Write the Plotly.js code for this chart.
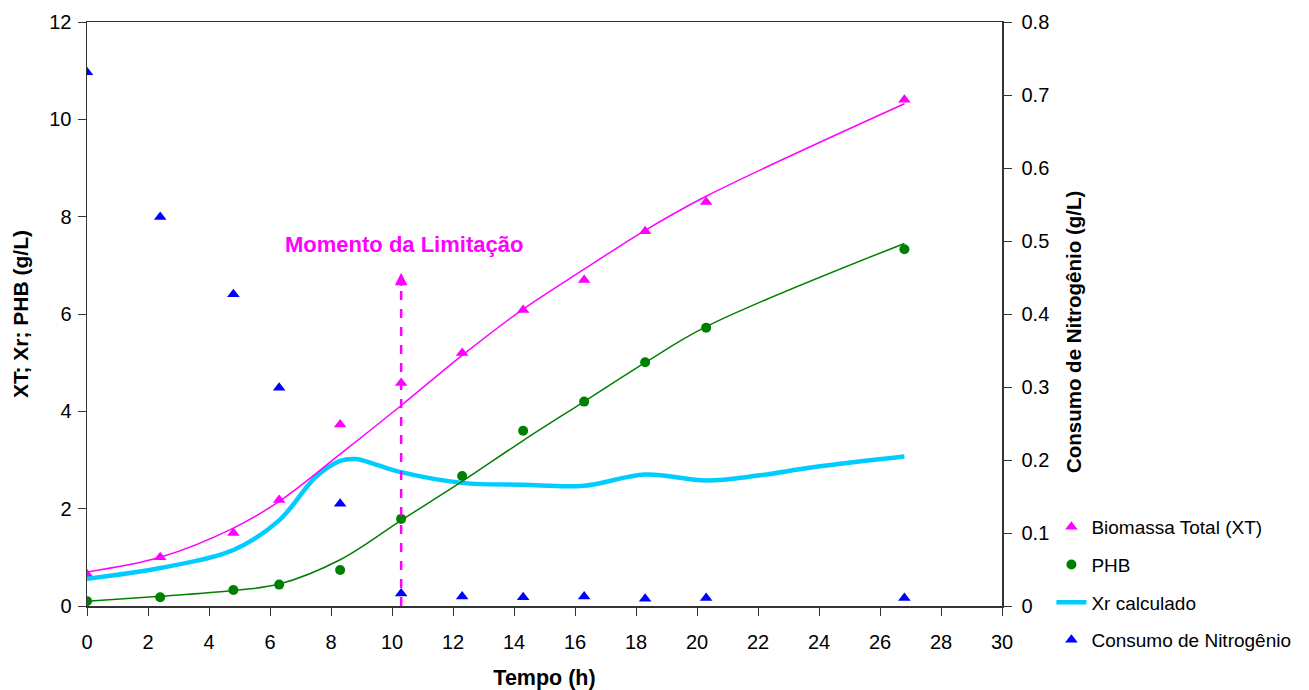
<!DOCTYPE html>
<html><head><meta charset="utf-8">
<script src="https://cdn.plot.ly/plotly-3.0.1.min.js"></script>
<style>body{margin:0;background:#fff}#chart{width:1309px;height:690px}</style>
</head><body><div id="chart"></div>
<script>
const tempo = [0, 2.4, 4.8, 6.3, 8.3, 10.3, 12.3, 14.3, 16.3, 18.3, 20.3, 26.8];
const biomassaTotal = [0.65, 1.0, 1.5, 2.18, 3.73, 4.58, 5.2, 6.08, 6.7, 7.7, 8.3, 10.4];
const phb = [0.1, 0.18, 0.33, 0.44, 0.74, 1.79, 2.67, 3.6, 4.2, 5.01, 5.72, 7.33];
const nitrogenio = [0.731, 0.533, 0.427, 0.299, 0.14, 0.017, 0.013, 0.012, 0.013, 0.01, 0.011, 0.011];
// fitted curves
const fitTempo = [0, 2.4, 4.8, 6.3, 8.3, 10.3, 12.3, 14.3, 16.3, 18.3, 20.3, 26.8];
const xtAjuste = [0.7, 1.0, 1.6, 2.15, 3.12, 4.12, 5.15, 6.1, 6.92, 7.72, 8.42, 10.32];
const phbAjuste = [0.1, 0.2, 0.32, 0.45, 0.95, 1.76, 2.56, 3.4, 4.2, 5.0, 5.74, 7.45];
const xrTempo = [0, 2.4, 4.8, 6.3, 7.5, 8.3, 8.8, 9.5, 10.3, 12.3, 14.3, 16.3, 18.3, 20.3, 22, 23.8, 26.8];
const xrCalculado = [0.56, 0.78, 1.15, 1.76, 2.65, 2.98, 3.02, 2.9, 2.75, 2.53, 2.49, 2.47, 2.7, 2.58, 2.68, 2.85, 3.07];
const xTicks = [0,2,4,6,8,10,12,14,16,18,20,22,24,26,28,30];
const limitacaoTempo = 10.3;
const limitacaoTopo = 6.85;
const limitacaoTexto = 'Momento da Limitação';
const tituloDireito = 'Consumo de Nitrogênio (g/L)';

const font = 'Liberation Sans, Arial, sans-serif';
const traces = [
  {x: tempo, y: biomassaTotal, mode: 'markers', name: 'Biomassa Total (XT)', legendgroup: 'a', marker: {symbol: 'triangle-up', size: 11, color: '#FF00FF'}},
  {x: tempo, y: phb, mode: 'markers', name: 'PHB', legendgroup: 'b', marker: {symbol: 'circle', size: 10, color: '#008000'}},
  {x: xrTempo, y: xrCalculado, mode: 'lines', name: 'Xr calculado', legendgroup: 'c', line: {color: '#00CCFF', width: 4.5, shape: 'spline'}},
  {x: tempo, y: nitrogenio, mode: 'markers', name: 'Consumo de Nitrogênio', legendgroup: 'd', yaxis: 'y2', marker: {symbol: 'triangle-up', size: 11, color: '#0000FF'}},
  {x: fitTempo, y: xtAjuste, mode: 'lines', line: {color: '#FF00FF', width: 1.5, shape: 'spline'}, showlegend: false, hoverinfo: 'skip'},
  {x: fitTempo, y: phbAjuste, mode: 'lines', line: {color: '#008000', width: 1.5, shape: 'spline'}, showlegend: false, hoverinfo: 'skip'}
];
const layout = {
  width: 1309, height: 690,
  margin: {l: 87, r: 307, t: 22, b: 84},
  paper_bgcolor: '#fff', plot_bgcolor: '#fff',
  font: {family: font, size: 20, color: '#000'},
  showlegend: true,
  legend: {x: 1.054, xanchor: 'left', y: 0.168, yanchor: 'top', traceorder: 'grouped', tracegroupgap: 10, font: {size: 19}, bgcolor: 'rgba(0,0,0,0)'},
  xaxis: {range: [0, 30], tickvals: xTicks, ticks: 'outside', ticklen: 8, tickcolor: '#333', showgrid: false, zeroline: false,
    showline: true, linecolor: '#333', linewidth: 1.5, mirror: true, ticklabelstandoff: 9, tickfont: {size: 20},
    title: {text: '<b>Tempo (h)</b>', font: {size: 21.5}, standoff: 18}},
  yaxis: {range: [0, 12], dtick: 2, ticks: 'outside', ticklen: 8, tickcolor: '#333', showgrid: false, zeroline: false,
    showline: true, linecolor: '#333', linewidth: 1.5, tickfont: {size: 20}, ticklabelstandoff: 2,
    title: {text: '<b>XT; Xr; PHB (g/L)</b>', font: {size: 21}, standoff: 15}},
  yaxis2: {range: [0, 0.8], dtick: 0.1, overlaying: 'y', side: 'right', ticks: 'outside', ticklen: 8, tickcolor: '#333',
    showgrid: false, zeroline: false, showline: true, linecolor: '#333', linewidth: 1.5, tickformat: '.1~f', tickfont: {size: 20},
    ticklabelstandoff: 6},
  shapes: [{type: 'line', xref: 'x', yref: 'y', x0: limitacaoTempo, x1: limitacaoTempo, y0: 0, y1: limitacaoTopo - 0.2,
    line: {color: '#FF00FF', width: 2.5, dash: 'dash'}}],
  annotations: [
    {x: limitacaoTempo, y: limitacaoTopo, xref: 'x', yref: 'y', ax: limitacaoTempo, ay: limitacaoTopo - 0.3, axref: 'x', ayref: 'y',
      text: '', showarrow: true, arrowhead: 2, arrowsize: 1, arrowwidth: 2.5, arrowcolor: '#FF00FF'},
    {x: limitacaoTempo + 0.1, y: 7.42, xref: 'x', yref: 'y', text: '<b>' + limitacaoTexto + '</b>', showarrow: false,
      font: {size: 22, color: '#FF00FF'}},
    {x: 1.0776, y: 0.469, xref: 'paper', yref: 'paper', text: '<b>' + tituloDireito + '</b>', showarrow: false,
      textangle: -90, xanchor: 'center', yanchor: 'middle', font: {size: 20.5, color: '#000'}}
  ]
};
Plotly.newPlot('chart', traces, layout, {displayModeBar: false, staticPlot: true});
</script></body></html>
